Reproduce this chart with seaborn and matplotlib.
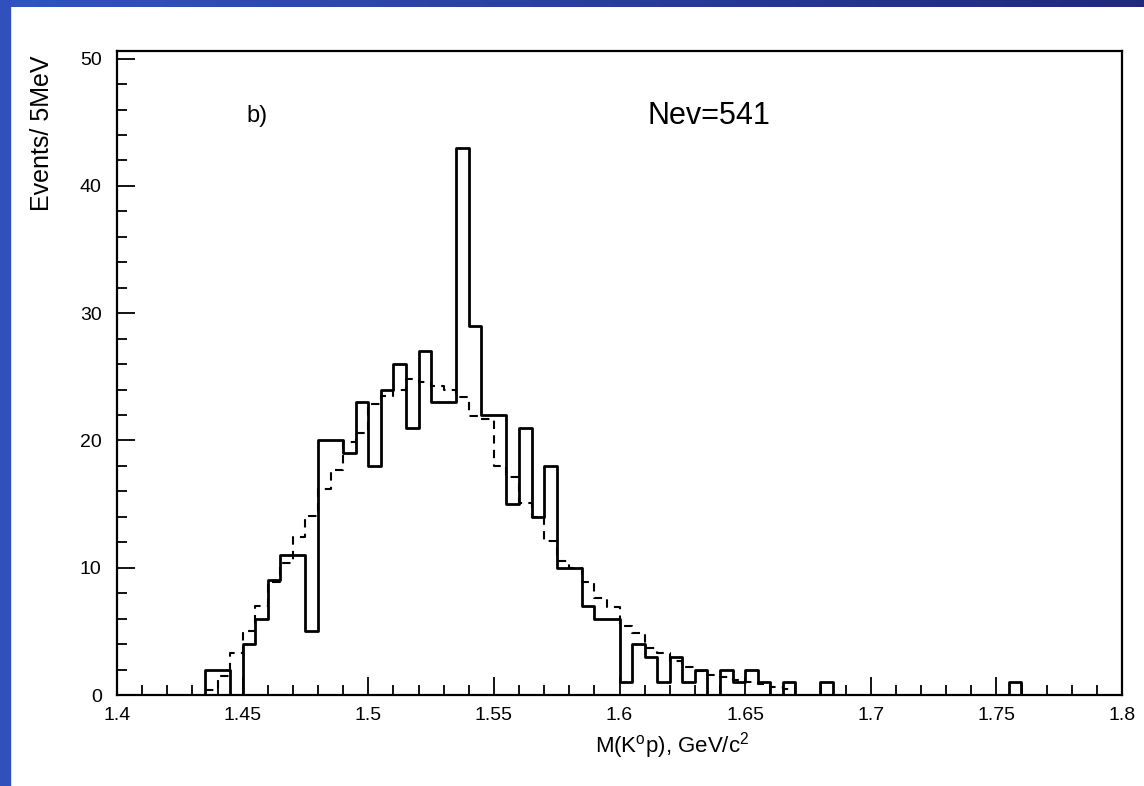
import numpy as np
import pandas as pd
import seaborn as sns
from matplotlib import pyplot as plt
from matplotlib.patches import Rectangle
from matplotlib.ticker import MultipleLocator


BIN_WIDTH = 0.005
X_RANGE = (1.40, 1.80)

# solid histogram: events per 5 MeV bin, bins starting at 1.400, 1.405, ... 1.795
data_counts = [
    0, 0, 0, 0, 0, 0, 0,
    2, 2, 0, 4, 6, 9, 11, 11, 5,
    20, 20, 19, 23, 18, 24, 26, 21, 27, 23, 23,
    43, 29, 22, 22, 15, 21, 14, 18, 10, 10,
    7, 6, 6, 1, 4, 3, 1, 3, 1, 2,
    0, 2, 1, 2, 1, 0, 1, 0, 0, 1,
    0, 0, 0, 0, 0, 0, 0, 0, 0, 0, 0, 0, 0, 0,
    1,
    0, 0, 0, 0, 0, 0, 0, 0,
]

# dashed histogram (background estimate), bins starting at 1.435 ... 1.665
bg_start = 1.435
bg_counts = [
    0.4, 1.5, 3.3, 5.0, 7.0, 8.9, 10.4, 12.4, 14.1,
    16.2, 17.7, 19.9, 20.6, 22.9, 23.5, 24.0, 24.8, 24.6, 24.3, 24.0,
    23.4, 21.9, 21.7, 18.0, 17.1, 15.1, 14.0, 12.1, 10.5, 10.0,
    8.9, 7.6, 6.9, 5.4, 4.9, 3.7, 3.3, 2.7, 2.2, 1.9,
    1.6, 1.4, 1.2, 1.0, 0.9, 0.6, 0.5,
]

x_ticks = [1.4, 1.45, 1.5, 1.55, 1.6, 1.65, 1.7, 1.75, 1.8]
x_tick_labels = ["1.4", "1.45", "1.5", "1.55", "1.6", "1.65", "1.7", "1.75", "1.8"]
y_ticks = [0, 10, 20, 30, 40, 50]


def make_frame(start, counts):
    centers = start + BIN_WIDTH * (np.arange(len(counts)) + 0.5)
    binrange = (start, start + BIN_WIDTH * len(counts))
    return pd.DataFrame({"mass": centers, "events": counts}), binrange


def main():
    sns.set_theme(style="ticks")
    plt.rcParams["font.family"] = ["Liberation Sans", "DejaVu Sans"]
    plt.rcParams.update({
        "mathtext.fontset": "custom",
        "mathtext.rm": "Liberation Sans",
        "mathtext.it": "Liberation Sans:italic",
        "axes.edgecolor": "black",
        "axes.linewidth": 1.6,
        "text.color": "black",
        "xtick.color": "black",
        "ytick.color": "black",
    })

    data_df, data_range = make_frame(X_RANGE[0], data_counts)
    bg_df, bg_range = make_frame(bg_start, bg_counts)

    fig = plt.figure(figsize=(11.44, 7.86), dpi=100, facecolor="white")

    # slide frame: gradient band on top, plain band on the left
    band = fig.add_axes([0, 1 - 7 / 786, 1, 7 / 786])
    grad = np.linspace(0, 1, 256)[None, :, None]
    c0 = np.array([0.19, 0.33, 0.77])
    c1 = np.array([0.13, 0.16, 0.50])
    band.imshow(c0 + (c1 - c0) * grad, aspect="auto")
    band.axis("off")
    fig.patches.append(Rectangle((0, 0), 10 / 1144, 1, transform=fig.transFigure,
                                 color="#2f50bd", zorder=5))

    ax = fig.add_axes([117 / 1144, 1 - 695 / 786, (1122 - 117) / 1144, (695 - 51) / 786])
    sns.histplot(data_df, x="mass", weights="events", binwidth=BIN_WIDTH, binrange=data_range,
                 element="step", fill=False, color="black", linewidth=2.0, ax=ax)
    sns.histplot(bg_df, x="mass", weights="events", binwidth=BIN_WIDTH, binrange=bg_range,
                 element="step", fill=False, color="black", linewidth=1.5,
                 linestyle=(0, (4, 3)), ax=ax)

    ax.set_xlim(*X_RANGE)
    ax.set_ylim(0, 50.6)
    ax.set_xticks(x_ticks)
    ax.set_xticklabels(x_tick_labels)
    ax.set_yticks(y_ticks)
    ax.xaxis.set_minor_locator(MultipleLocator(0.01))
    ax.yaxis.set_minor_locator(MultipleLocator(2))
    ax.tick_params(axis="x", which="major", direction="in", length=13, width=1.3,
                   labelsize=14, pad=9, top=False)
    ax.tick_params(axis="x", which="minor", direction="in", length=7, width=1.3, top=False)
    ax.tick_params(axis="y", which="major", direction="in", length=13, width=1.3,
                   labelsize=14, pad=11, right=False)
    ax.tick_params(axis="y", which="minor", direction="in", length=7, width=1.3, right=False)
    ax.set_xlabel("")
    ax.set_ylabel("")
    for side in ax.spines.values():
        side.set_visible(True)
        side.set_linewidth(1.6)

    ax.text(1.4557, 45.5, "b)", fontsize=17, ha="center", va="center")
    ax.text(1.6356, 45.5, "Nev=541", fontsize=22, ha="center", va="center")

    fig.text(42 / 1144, 1 - 133 / 786, "Events/ 5MeV", rotation=90, fontsize=18,
             ha="center", va="center")
    fig.text(672 / 1144, 1 - 746 / 786, r"M(K$^{\rm o}$p), GeV/c$^{\rm 2}$", fontsize=16,
             ha="center", va="center")

    fig.savefig("out.png", dpi=100, facecolor="white")


if __name__ == "__main__":
    main()
